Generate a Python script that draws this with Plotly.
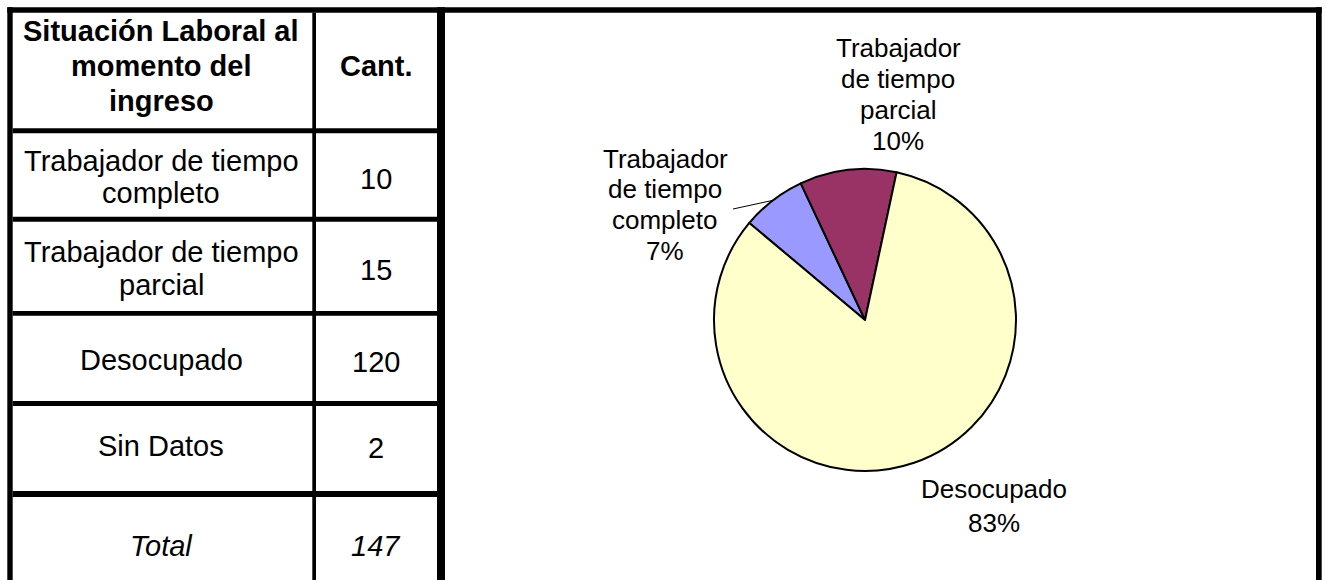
import math
import textwrap
import plotly.graph_objects as go

# ---------------- data ----------------
header_lines = ["Situación Laboral al", "momento del", "ingreso"]
header_count = "Cant."
categories = ["Trabajador de tiempo completo", "Trabajador de tiempo parcial",
              "Desocupado", "Sin Datos"]
counts = [10, 15, 120, 2]
total_label = "Total"
total_count = sum(counts)

pie_labels = ["Trabajador de tiempo completo", "Trabajador de tiempo parcial", "Desocupado"]
pie_values = [10, 15, 120]
pie_colors = ["#9999FF", "#993366", "#FFFFCC"]

# ---------------- layout helpers ----------------
W, H = 1326, 580
FONT = "Liberation Sans, Arial, sans-serif"


def X(px):
    return px / W


def Y(py):
    return 1 - py / H


fig = go.Figure()

# pie geometry (pixels)
CX, CY, R = 865, 320, 151
ROT = -50

fig.add_trace(go.Pie(
    labels=pie_labels, values=pie_values, sort=False, direction="clockwise",
    rotation=ROT, textinfo="none", showlegend=False,
    marker=dict(colors=pie_colors, line=dict(color="black", width=2)),
    domain=dict(x=[X(CX - R), X(CX + R)], y=[Y(CY + R), Y(CY - R)]),
))


def rect(x0, x1, y0, y1):
    fig.add_shape(type="rect", xref="paper", yref="paper",
                  x0=X(x0), x1=X(x1), y0=Y(y1), y1=Y(y0),
                  fillcolor="black", line=dict(width=0))


def text(x, y, s, size, weight="normal", style="normal"):
    fig.add_annotation(x=X(x), y=Y(y), xref="paper", yref="paper", text=s,
                       showarrow=False, xanchor="center", yanchor="middle",
                       font=dict(family=FONT, size=size, color="black",
                                 weight=weight, style=style))


# ---------------- frame & table grid ----------------
rect(7.3, 1321.7, 7.3, 12.7)      # top border
rect(7.3, 12.7, 7.3, 580)         # left border
rect(1316, 1321.7, 7.3, 580)      # right border
rect(437, 445, 7.3, 580)          # table / chart divider
rect(312.3, 316, 12.7, 580)       # column divider
for (a, b) in [(128.3, 133.3), (216.7, 221.7), (311, 315.7), (401, 406), (491, 497)]:
    rect(12.7, 437, a, b)

# ---------------- table text ----------------
COL1, COL2 = 161, 376
TS = 29

hmid, hsp = 66.3, 35
for k, line in enumerate(header_lines):
    text(COL1, hmid + (k - (len(header_lines) - 1) / 2) * hsp, line, TS, weight="bold")
text(COL2, hmid, header_count, TS, weight="bold")

row_mid = [177, 268, 360, 446]
rsp = 33
for cat, cnt, mid in zip(categories, counts, row_mid):
    lines = textwrap.wrap(cat, 20)
    for k, line in enumerate(lines):
        text(COL1, mid + (k - (len(lines) - 1) / 2) * rsp, line, TS)
    text(COL2, mid + 2, str(cnt), TS)

text(COL1, 546, total_label, TS, style="italic")
text(COL2, 546, str(total_count), TS, style="italic")

# ---------------- pie labels ----------------
LS = 26
psum = sum(pie_values)
label_pos = [(665, 204.8, 30.7), (898, 94.8, 31), (994, 505.5, 34)]
for name, v, (lx, ly, sp) in zip(pie_labels, pie_values, label_pos):
    lines = textwrap.wrap(name, 10) + [f"{round(v / psum * 100)}%"]
    for k, line in enumerate(lines):
        text(lx, ly + (k - (len(lines) - 1) / 2) * sp, line, LS)

# leader line for the first slice label
mid_ang = math.radians(ROT + (pie_values[0] / 2) / psum * 360)
ex, ey = CX + R * math.sin(mid_ang), CY - R * math.cos(mid_ang)
fig.add_shape(type="line", xref="paper", yref="paper",
              x0=X(733), y0=Y(209), x1=X(ex), y1=Y(ey),
              line=dict(color="black", width=1))

fig.update_layout(
    width=W, height=H, margin=dict(l=0, r=0, t=0, b=0),
    paper_bgcolor="white", plot_bgcolor="white",
)

fig.write_html("out.html", config={"displayModeBar": False},
               post_script="document.body.style.margin='0';document.body.style.overflow='hidden';")
